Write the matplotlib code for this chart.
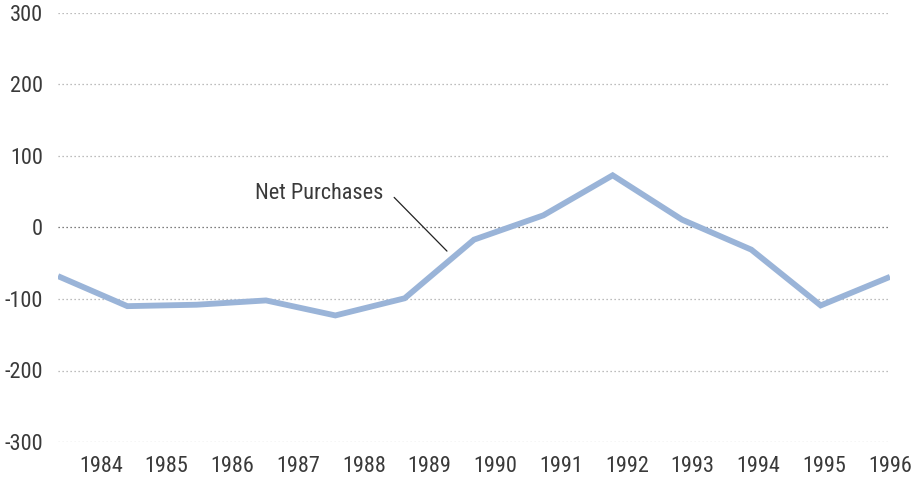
"""Net purchases, 1984-1996: single line chart with dotted gridlines."""

import matplotlib
matplotlib.use("Agg")
import matplotlib.pyplot as plt
from matplotlib import font_manager
import numpy as np

years = [1984, 1985, 1986, 1987, 1988, 1989, 1990, 1991, 1992, 1993, 1994, 1995, 1996]
net_purchases = [-68, -110, -108, -102, -123, -99, -17, 17, 73, 11, -31, -109, -69]
y_ticks = [-300, -200, -100, 0, 100, 200, 300]
series_label = "Net Purchases"

LINE_COLOR = "#9AB4D8"
TEXT_COLOR = "#3a3a3a"

# pick a condensed sans that is actually installed
available = {f.name for f in font_manager.fontManager.ttflist}
candidates = ["Roboto Condensed", "Archivo Narrow", "PT Sans Narrow",
              "Fira Sans Condensed", "IBM Plex Sans Condensed",
              "Sofia Sans Condensed", "Barlow Condensed"]
family = next((c for c in candidates if c in available), "DejaVu Sans")
plt.rcParams["font.family"] = [family, "DejaVu Sans"]
plt.rcParams["axes.unicode_minus"] = False

fig = plt.figure(figsize=(9.22, 4.79), dpi=100)
ax = fig.add_axes([58 / 922, 1 - 442 / 479, (890 - 58) / 922, (442 - 13) / 479])

x = np.arange(len(years))
ax.set_xlim(0, len(years) - 1)
ax.set_ylim(-300, 300)

# dotted gridlines, zero line a bit darker
for v in y_ticks:
    ax.axhline(
        v,
        color="#555555" if v == 0 else "#a8a8a8",
        linewidth=0.9,
        linestyle=(0, (1, 2.2)),
        zorder=1,
    )

ax.plot(x, net_purchases, color=LINE_COLOR, linewidth=4.2,
        solid_joinstyle="miter", solid_capstyle="butt", zorder=3)

# year labels sit between the points in the original
tick_pos = np.linspace(0.62, len(years) - 1, len(years))
ax.set_xticks(tick_pos)
ax.set_xticklabels([str(y) for y in years])
ax.set_yticks(y_ticks)
ax.set_yticklabels([str(v) for v in y_ticks])

ax.tick_params(axis="both", length=0, labelsize=16, colors=TEXT_COLOR)
ax.tick_params(axis="y", pad=11)
ax.tick_params(axis="x", pad=10)
for s in ax.spines.values():
    s.set_visible(False)

# callout label
ax.annotate(
    series_label,
    xy=(5.61, -33),
    xytext=(4.7, 48),
    textcoords="data",
    ha="right",
    va="center",
    fontsize=16,
    color=TEXT_COLOR,
    arrowprops=dict(arrowstyle="-", color="#222222", linewidth=0.9,
                    shrinkA=0, shrinkB=0, relpos=(1.08, 0.3)),
)

fig.savefig("out.png", dpi=100)
